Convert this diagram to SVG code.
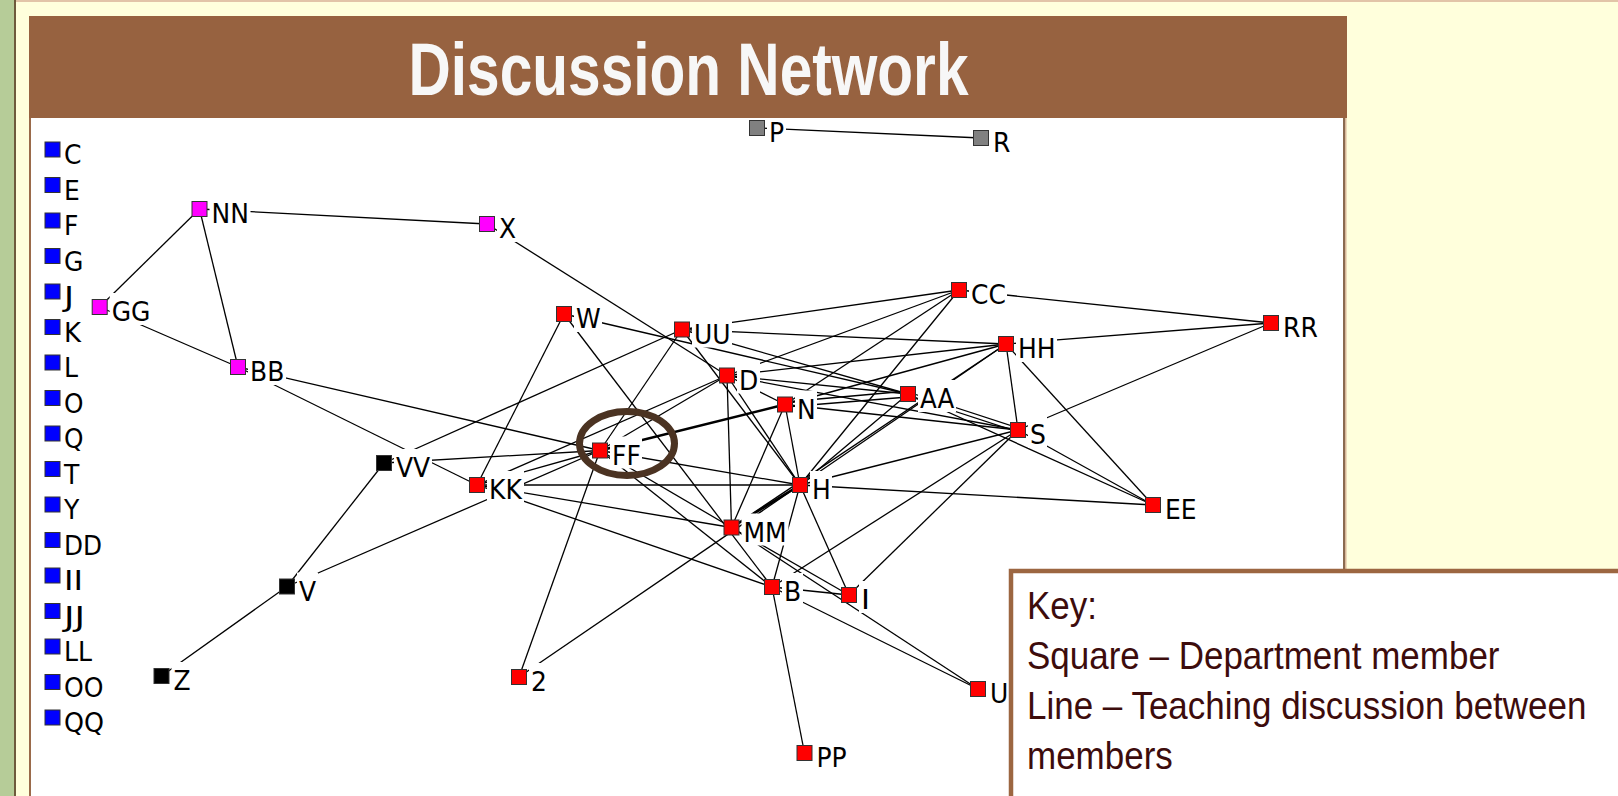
<svg xmlns="http://www.w3.org/2000/svg" width="1618" height="796" viewBox="0 0 1618 796">
  <style>
    .e { stroke: #000; stroke-width: 1.3; fill: none; }
    .e2 { stroke: #000; stroke-width: 2.6; fill: none; }
    .sq { stroke: #333; stroke-width: 1; }
    .red { fill: #ff0000; }
    .mag { fill: #ff00ff; }
    .blk { fill: #000; }
    .gry { fill: #808080; }
    .blu { fill: #0000ff; }
    .lb { fill: #fff; }
    .lab { font-family: "DejaVu Sans", Verdana, sans-serif; font-size: 27px; fill: #000; }
    .key { font-family: "Liberation Sans", Arial, sans-serif; font-size: 35px; fill: #3d0c0c; }
  </style>

  <!-- page background -->
  <rect x="0" y="0" width="1618" height="796" fill="#ffffdc"/>
  <rect x="0" y="0" width="1618" height="2" fill="#e2c4a8"/>
  <rect x="0" y="0" width="14" height="796" fill="#b6cc98"/>
  <rect x="14" y="0" width="2" height="796" fill="#6e5a3c"/>

  <!-- white drawing panel -->
  <rect x="29" y="118" width="1316" height="690" fill="#fff"/>
  <rect x="29" y="118" width="2" height="690" fill="#9a6a4a"/>
  <rect x="1343" y="118" width="2" height="460" fill="#8b6b50"/>
  <rect x="1345" y="118" width="1.5" height="460" fill="#d9b89a"/>

  <!-- connectors -->
  <g id="connectors">
    <line class="e" x1="757" y1="128" x2="981" y2="138"/>
    <line class="e" x1="199.5" y1="209" x2="487" y2="224"/>
    <line class="e" x1="199.5" y1="209" x2="99.7" y2="307"/>
    <line class="e" x1="199.5" y1="209" x2="238" y2="367"/>
    <line class="e" x1="99.7" y1="307" x2="238" y2="367"/>
    <line class="e" x1="238" y1="367" x2="477" y2="485"/>
    <line class="e" x1="238" y1="367" x2="600" y2="450.5"/>
    <line class="e" x1="487" y1="224" x2="727" y2="375.5"/>
    <line class="e" x1="564" y1="314" x2="477" y2="485"/>
    <line class="e" x1="564" y1="314" x2="772" y2="587"/>
    <line class="e" x1="564" y1="314" x2="908" y2="394"/>
    <line class="e" x1="682" y1="329.5" x2="600" y2="450.5"/>
    <line class="e" x1="682" y1="329.5" x2="384" y2="463"/>
    <line class="e" x1="682" y1="329.5" x2="959" y2="290"/>
    <line class="e" x1="682" y1="329.5" x2="1006" y2="344"/>
    <line class="e" x1="682" y1="329.5" x2="908" y2="394"/>
    <line class="e" x1="682" y1="329.5" x2="800" y2="485"/>
    <line class="e" x1="727" y1="375.5" x2="600" y2="450.5"/>
    <line class="e" x1="727" y1="375.5" x2="785" y2="404.5"/>
    <line class="e" x1="727" y1="375.5" x2="731.5" y2="527.5"/>
    <line class="e" x1="727" y1="375.5" x2="800" y2="485"/>
    <line class="e" x1="727" y1="375.5" x2="908" y2="394"/>
    <line class="e" x1="727" y1="375.5" x2="1006" y2="344"/>
    <line class="e" x1="727" y1="375.5" x2="959" y2="290"/>
    <line class="e" x1="727" y1="375.5" x2="1018" y2="430"/>
    <line class="e2" x1="785" y1="404.5" x2="600" y2="450.5"/>
    <line class="e" x1="785" y1="404.5" x2="800" y2="485"/>
    <line class="e" x1="785" y1="404.5" x2="731.5" y2="527.5"/>
    <line class="e" x1="785" y1="402" x2="908" y2="391"/>
    <line class="e" x1="785" y1="407" x2="908" y2="397"/>
    <line class="e" x1="785" y1="404.5" x2="1018" y2="430"/>
    <line class="e" x1="785" y1="404.5" x2="1006" y2="344"/>
    <line class="e" x1="785" y1="404.5" x2="959" y2="290"/>
    <line class="e" x1="600" y1="450.5" x2="384" y2="463"/>
    <line class="e" x1="600" y1="450.5" x2="477" y2="485"/>
    <line class="e" x1="600" y1="450.5" x2="800" y2="485"/>
    <line class="e" x1="600" y1="450.5" x2="731.5" y2="527.5"/>
    <line class="e" x1="600" y1="450.5" x2="772" y2="587"/>
    <line class="e" x1="600" y1="450.5" x2="519" y2="677"/>
    <line class="e" x1="600" y1="450.5" x2="287" y2="586.5"/>
    <line class="e" x1="477" y1="485" x2="800" y2="485"/>
    <line class="e" x1="477" y1="485" x2="731.5" y2="527.5"/>
    <line class="e" x1="477" y1="485" x2="772" y2="587"/>
    <line class="e" x1="477" y1="485" x2="727" y2="375.5"/>
    <line class="e" x1="384" y1="463" x2="287" y2="586.5"/>
    <line class="e" x1="287" y1="586.5" x2="161.5" y2="676"/>
    <line class="e" x1="959" y1="290" x2="800" y2="485"/>
    <line class="e" x1="959" y1="290" x2="1271" y2="323"/>
    <line class="e" x1="1006" y1="344" x2="800" y2="485"/>
    <line class="e" x1="1006" y1="344" x2="731.5" y2="527.5"/>
    <line class="e" x1="1006" y1="344" x2="1018" y2="430"/>
    <line class="e" x1="1006" y1="344" x2="1153" y2="505"/>
    <line class="e" x1="1006" y1="344" x2="1271" y2="323"/>
    <line class="e" x1="908" y1="392" x2="1018" y2="428"/>
    <line class="e" x1="908" y1="396" x2="1018" y2="432"/>
    <line class="e" x1="908" y1="394" x2="800" y2="485"/>
    <line class="e" x1="908" y1="394" x2="1153" y2="505"/>
    <line class="e" x1="1018" y1="430" x2="1271" y2="323"/>
    <line class="e" x1="1018" y1="430" x2="1153" y2="505"/>
    <line class="e" x1="1018" y1="430" x2="800" y2="485"/>
    <line class="e" x1="1018" y1="430" x2="772" y2="587"/>
    <line class="e" x1="1018" y1="430" x2="849" y2="595"/>
    <line class="e2" x1="800" y1="485" x2="731.5" y2="527.5"/>
    <line class="e" x1="800" y1="485" x2="519" y2="677"/>
    <line class="e" x1="800" y1="485" x2="772" y2="587"/>
    <line class="e" x1="800" y1="485" x2="849" y2="595"/>
    <line class="e" x1="800" y1="485" x2="1153" y2="505"/>
    <line class="e" x1="731.5" y1="527.5" x2="849" y2="595"/>
    <line class="e" x1="731.5" y1="527.5" x2="978" y2="689"/>
    <line class="e" x1="772" y1="587" x2="849" y2="595"/>
    <line class="e" x1="772" y1="587" x2="978" y2="689"/>
    <line class="e" x1="772" y1="587" x2="804.5" y2="753"/>
  </g>

  <!-- highlight ring -->
  <ellipse cx="627" cy="443.5" rx="47.5" ry="32" fill="none" stroke="#4b3322" stroke-width="7"/>

  <!-- isolates -->
  <g id="n-C"><rect class="sq blu" x="45" y="142" width="15" height="15"/><text class="lab" x="64" y="164" textLength="17.5" lengthAdjust="spacingAndGlyphs">C</text></g>
  <g id="n-E"><rect class="sq blu" x="45" y="177.5" width="15" height="15"/><text class="lab" x="64" y="199.5" textLength="15.8" lengthAdjust="spacingAndGlyphs">E</text></g>
  <g id="n-F"><rect class="sq blu" x="45" y="213" width="15" height="15"/><text class="lab" x="64" y="235" textLength="14.4" lengthAdjust="spacingAndGlyphs">F</text></g>
  <g id="n-G"><rect class="sq blu" x="45" y="248.5" width="15" height="15"/><text class="lab" x="64" y="270.5" textLength="19.4" lengthAdjust="spacingAndGlyphs">G</text></g>
  <g id="n-J"><rect class="sq blu" x="45" y="284" width="15" height="15"/><text class="lab" x="64" y="306" textLength="10" lengthAdjust="spacingAndGlyphs">J</text></g>
  <g id="n-K"><rect class="sq blu" x="45" y="319.5" width="15" height="15"/><text class="lab" x="64" y="341.5" textLength="17" lengthAdjust="spacingAndGlyphs">K</text></g>
  <g id="n-L"><rect class="sq blu" x="45" y="355" width="15" height="15"/><text class="lab" x="64" y="377" textLength="14" lengthAdjust="spacingAndGlyphs">L</text></g>
  <g id="n-O"><rect class="sq blu" x="45" y="390.5" width="15" height="15"/><text class="lab" x="64" y="412.5" textLength="19.5" lengthAdjust="spacingAndGlyphs">O</text></g>
  <g id="n-Q"><rect class="sq blu" x="45" y="426" width="15" height="15"/><text class="lab" x="64" y="448" textLength="19.5" lengthAdjust="spacingAndGlyphs">Q</text></g>
  <g id="n-T"><rect class="sq blu" x="45" y="461.5" width="15" height="15"/><text class="lab" x="64" y="483.5" textLength="15.3" lengthAdjust="spacingAndGlyphs">T</text></g>
  <g id="n-Y"><rect class="sq blu" x="45" y="497" width="15" height="15"/><text class="lab" x="64" y="519" textLength="15.3" lengthAdjust="spacingAndGlyphs">Y</text></g>
  <g id="n-DD"><rect class="sq blu" x="45" y="532.5" width="15" height="15"/><text class="lab" x="64" y="554.5" textLength="38" lengthAdjust="spacingAndGlyphs">DD</text></g>
  <g id="n-II"><rect class="sq blu" x="45" y="568" width="15" height="15"/><text class="lab" x="64" y="590" textLength="19" lengthAdjust="spacingAndGlyphs">II</text></g>
  <g id="n-JJ"><rect class="sq blu" x="45" y="603.5" width="15" height="15"/><text class="lab" x="64" y="625.5" textLength="21" lengthAdjust="spacingAndGlyphs">JJ</text></g>
  <g id="n-LL"><rect class="sq blu" x="45" y="639" width="15" height="15"/><text class="lab" x="64" y="661" textLength="28" lengthAdjust="spacingAndGlyphs">LL</text></g>
  <g id="n-OO"><rect class="sq blu" x="45" y="674.5" width="15" height="15"/><text class="lab" x="64" y="696.5" textLength="39.5" lengthAdjust="spacingAndGlyphs">OO</text></g>
  <g id="n-QQ"><rect class="sq blu" x="45" y="710" width="15" height="15"/><text class="lab" x="64" y="732" textLength="40" lengthAdjust="spacingAndGlyphs">QQ</text></g>

  <!-- connected members -->
  <g id="n-P"><rect class="sq gry" x="749.5" y="120.5" width="15" height="15"/><rect class="lb" x="767" y="119" width="19" height="27"/><text class="lab" x="769" y="142" textLength="15.1" lengthAdjust="spacingAndGlyphs">P</text></g>
  <g id="n-R"><rect class="sq gry" x="973.5" y="130.5" width="15" height="15"/><rect class="lb" x="991" y="124" width="21" height="32"/><text class="lab" x="993" y="152" textLength="17.4" lengthAdjust="spacingAndGlyphs">R</text></g>
  <g id="n-NN"><rect class="sq mag" x="192" y="201.5" width="15" height="15"/><rect class="lb" x="209.5" y="195" width="41" height="32"/><text class="lab" x="211.5" y="223" textLength="37.4" lengthAdjust="spacingAndGlyphs">NN</text></g>
  <g id="n-X"><rect class="sq mag" x="479.5" y="216.5" width="15" height="15"/><rect class="lb" x="497" y="210" width="21" height="32"/><text class="lab" x="499" y="238" textLength="17.1" lengthAdjust="spacingAndGlyphs">X</text></g>
  <g id="n-GG"><rect class="sq mag" x="92.2" y="299.5" width="15" height="15"/><rect class="lb" x="109.7" y="293" width="43" height="32"/><text class="lab" x="111.7" y="321" textLength="38.8" lengthAdjust="spacingAndGlyphs">GG</text></g>
  <g id="n-BB"><rect class="sq mag" x="230.5" y="359.5" width="15" height="15"/><rect class="lb" x="248" y="353" width="38" height="32"/><text class="lab" x="250" y="381" textLength="34.3" lengthAdjust="spacingAndGlyphs">BB</text></g>
  <g id="n-VV"><rect class="sq blk" x="376.5" y="455.5" width="15" height="15"/><rect class="lb" x="394" y="449" width="38" height="32"/><text class="lab" x="396" y="477" textLength="34.2" lengthAdjust="spacingAndGlyphs">VV</text></g>
  <g id="n-KK"><rect class="sq red" x="469.5" y="477.5" width="15" height="15"/><rect class="lb" x="487" y="471" width="37" height="32"/><text class="lab" x="489" y="499" textLength="32.8" lengthAdjust="spacingAndGlyphs">KK</text></g>
  <g id="n-V"><rect class="sq blk" x="279.5" y="579" width="15" height="15"/><rect class="lb" x="297" y="572.5" width="21" height="32"/><text class="lab" x="299" y="600.5" textLength="17.1" lengthAdjust="spacingAndGlyphs">V</text></g>
  <g id="n-Z"><rect class="sq blk" x="154" y="668.5" width="15" height="15"/><rect class="lb" x="171.5" y="662" width="21" height="32"/><text class="lab" x="173.5" y="690" textLength="17.1" lengthAdjust="spacingAndGlyphs">Z</text></g>
  <g id="n-2"><rect class="sq red" x="511.5" y="669.5" width="15" height="15"/><rect class="lb" x="529" y="663" width="20" height="32"/><text class="lab" x="531" y="691" textLength="15.9" lengthAdjust="spacingAndGlyphs">2</text></g>
  <g id="n-W"><rect class="sq red" x="556.5" y="306.5" width="15" height="15"/><rect class="lb" x="574" y="300" width="28" height="32"/><text class="lab" x="576" y="328" textLength="24.7" lengthAdjust="spacingAndGlyphs">W</text></g>
  <g id="n-UU"><rect class="sq red" x="674.5" y="322" width="15" height="15"/><rect class="lb" x="692" y="315.5" width="40" height="32"/><text class="lab" x="694" y="343.5" textLength="36.6" lengthAdjust="spacingAndGlyphs">UU</text></g>
  <g id="n-D"><rect class="sq red" x="719.5" y="368" width="15" height="15"/><rect class="lb" x="737" y="361.5" width="23" height="32"/><text class="lab" x="739" y="389.5" textLength="19.3" lengthAdjust="spacingAndGlyphs">D</text></g>
  <g id="n-N"><rect class="sq red" x="777.5" y="397" width="15" height="15"/><rect class="lb" x="795" y="390.5" width="22" height="32"/><text class="lab" x="797" y="418.5" textLength="18.7" lengthAdjust="spacingAndGlyphs">N</text></g>
  <g id="n-FF"><rect class="sq red" x="592.5" y="443" width="15" height="15"/><rect class="lb" x="610" y="436.5" width="32" height="32"/><text class="lab" x="612" y="464.5" textLength="28.8" lengthAdjust="spacingAndGlyphs">FF</text></g>
  <g id="n-CC"><rect class="sq red" x="951.5" y="282.5" width="15" height="15"/><rect class="lb" x="969" y="276" width="38" height="32"/><text class="lab" x="971" y="304" textLength="34.9" lengthAdjust="spacingAndGlyphs">CC</text></g>
  <g id="n-HH"><rect class="sq red" x="998.5" y="336.5" width="15" height="15"/><rect class="lb" x="1016" y="330" width="41" height="32"/><text class="lab" x="1018" y="358" textLength="37.6" lengthAdjust="spacingAndGlyphs">HH</text></g>
  <g id="n-AA"><rect class="sq red" x="900.5" y="386.5" width="15" height="15"/><rect class="lb" x="918" y="380" width="38" height="32"/><text class="lab" x="920" y="408" textLength="34.2" lengthAdjust="spacingAndGlyphs">AA</text></g>
  <g id="n-S"><rect class="sq red" x="1010.5" y="422.5" width="15" height="15"/><rect class="lb" x="1028" y="416" width="19" height="32"/><text class="lab" x="1030" y="444" textLength="15.9" lengthAdjust="spacingAndGlyphs">S</text></g>
  <g id="n-RR"><rect class="sq red" x="1263.5" y="315.5" width="15" height="15"/><rect class="lb" x="1281" y="309" width="38" height="32"/><text class="lab" x="1283" y="337" textLength="34.8" lengthAdjust="spacingAndGlyphs">RR</text></g>
  <g id="n-H"><rect class="sq red" x="792.5" y="477.5" width="15" height="15"/><rect class="lb" x="810" y="471" width="22" height="32"/><text class="lab" x="812" y="499" textLength="18.8" lengthAdjust="spacingAndGlyphs">H</text></g>
  <g id="n-MM"><rect class="sq red" x="724" y="520" width="15" height="15"/><rect class="lb" x="741.5" y="513.5" width="47" height="32"/><text class="lab" x="743.5" y="541.5" textLength="43.2" lengthAdjust="spacingAndGlyphs">MM</text></g>
  <g id="n-EE"><rect class="sq red" x="1145.5" y="497.5" width="15" height="15"/><rect class="lb" x="1163" y="491" width="35" height="32"/><text class="lab" x="1165" y="519" textLength="31.6" lengthAdjust="spacingAndGlyphs">EE</text></g>
  <g id="n-B"><rect class="sq red" x="764.5" y="579.5" width="15" height="15"/><rect class="lb" x="782" y="573" width="21" height="32"/><text class="lab" x="784" y="601" textLength="17.2" lengthAdjust="spacingAndGlyphs">B</text></g>
  <g id="n-I"><rect class="sq red" x="841.5" y="587.5" width="15" height="15"/><rect class="lb" x="859" y="581" width="12" height="32"/><text class="lab" x="861" y="609" textLength="9" lengthAdjust="spacingAndGlyphs">I</text></g>
  <g id="n-U"><rect class="sq red" x="970.5" y="681.5" width="15" height="15"/><rect class="lb" x="988" y="675" width="22" height="32"/><text class="lab" x="990" y="703" textLength="18.3" lengthAdjust="spacingAndGlyphs">U</text></g>
  <g id="n-PP"><rect class="sq red" x="797" y="745.5" width="15" height="15"/><rect class="lb" x="814.5" y="739" width="34" height="32"/><text class="lab" x="816.5" y="767" textLength="30.2" lengthAdjust="spacingAndGlyphs">PP</text></g>

  <!-- title bar -->
  <rect x="29" y="16" width="1318" height="102" fill="#976240"/>
  <text x="688.5" y="95" text-anchor="middle" textLength="560" lengthAdjust="spacingAndGlyphs"
        font-family="'Liberation Sans Narrow', 'Liberation Sans', Arial, sans-serif" font-weight="bold" font-size="74" fill="#f7f7f7">Discussion Network</text>

  <!-- key box -->
  <g id="key">
    <rect x="1011" y="571" width="620" height="240" fill="#fff" stroke="#9c6641" stroke-width="4.5"/>
    <text class="key" transform="translate(1027 619) scale(1 1.12)">Key:</text>
    <text class="key" transform="translate(1027 669) scale(1 1.12)">Square – Department member</text>
    <text class="key" transform="translate(1027 719) scale(1 1.12)">Line – Teaching discussion between</text>
    <text class="key" transform="translate(1027 769) scale(1 1.12)">members</text>
  </g>
</svg>
